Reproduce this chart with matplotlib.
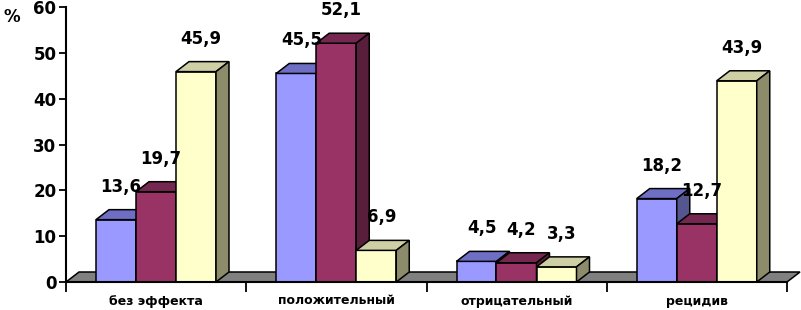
import matplotlib
matplotlib.use("Agg")
import matplotlib.pyplot as plt
from matplotlib.patches import Polygon

# ─── data ─────────────────────────────────────────────────────────────────────
categories = ["без эффекта", "положительный", "отрицательный", "рецидив"]
series_1 = [13.6, 45.5, 4.5, 18.2]
series_2 = [19.7, 52.1, 4.2, 12.7]
series_3 = [45.9, 6.9, 3.3, 43.9]
y_ticks = [0, 10, 20, 30, 40, 50, 60]

# front / top / side face colours per series
faces = [
    ("#9999FF", "#6E6EC4", "#55558F"),
    ("#993366", "#762750", "#5A1E3D"),
    ("#FFFFCC", "#CFCFA6", "#8C8C6B"),
]

W, H, DPI = 801, 310, 100
fig = plt.figure(figsize=(W / DPI, H / DPI), dpi=DPI)
ax_l, ax_b, ax_w, ax_h = 66, 28, 721, 275
ax = fig.add_axes([ax_l / W, ax_b / H, ax_w / W, ax_h / H])
ax.set_xlim(0, len(categories))
ax.set_ylim(0, 60)

px_x = len(categories) / ax_w     # data units per pixel
px_y = 60 / ax_h
dx, dy = 13 * px_x, 10 * px_y     # depth offset
bar_w = 40 * px_x
gap = 30 * px_x
lw = 1.1

# floor
ax.add_patch(Polygon([(0, 0), (4, 0), (4 + dx, dy), (dx, dy)], closed=True,
                     fc="#808080", ec="black", lw=lw, clip_on=False, zorder=1))


def bar3d(x0, h, cols):
    front, top, side = cols
    kw = dict(closed=True, ec="black", lw=lw, clip_on=False, zorder=2,
              joinstyle="miter")
    ax.add_patch(Polygon([(x0, 0), (x0 + bar_w, 0), (x0 + bar_w, h), (x0, h)], fc=front, **kw))
    ax.add_patch(Polygon([(x0, h), (x0 + bar_w, h), (x0 + bar_w + dx, h + dy), (x0 + dx, h + dy)], fc=top, **kw))
    ax.add_patch(Polygon([(x0 + bar_w, 0), (x0 + bar_w + dx, dy), (x0 + bar_w + dx, h + dy), (x0 + bar_w, h)], fc=side, **kw))


for i in range(len(categories)):
    for k, vals in enumerate([series_1, series_2, series_3]):
        x0 = i + gap + k * bar_w
        bar3d(x0, vals[i], faces[k])

for i in range(len(categories)):
    for k, vals in enumerate([series_1, series_2, series_3]):
        x0 = i + gap + k * bar_w
        ax.text(x0 + bar_w / 2 + 5 * px_x, vals[i] + dy + 14 * px_y,
                f"{vals[i]:.1f}".replace(".", ","), ha="center", va="bottom",
                fontsize=12, fontweight="bold", zorder=5)

# axes styling
for s in ["top", "right", "bottom"]:
    ax.spines[s].set_visible(False)
ax.spines["left"].set_linewidth(1.5)
ax.spines["left"].set_zorder(6)
ax.axhline(0, color="black", lw=1.5, xmax=1.0, clip_on=False, zorder=6)
ax.set_yticks(y_ticks)
ax.set_yticklabels([str(t) for t in y_ticks], fontsize=12, fontweight="bold")
ax.tick_params(axis="y", direction="out", length=5, width=1.3, pad=2)
ax.set_xticks(range(len(categories) + 1))
ax.set_xticklabels([])
ax.tick_params(axis="x", direction="out", length=7, width=1.3)
for i, c in enumerate(categories):
    ax.text(i + 0.5, -19 * px_y, c, ha="center", va="center",
            fontsize=9, fontweight="bold")
ax.patch.set_visible(False)

fig.text(12 / W, 1 - 17 / H, "%", ha="center", va="center",
         fontsize=12, fontweight="bold")

fig.savefig("out.png", dpi=DPI)
